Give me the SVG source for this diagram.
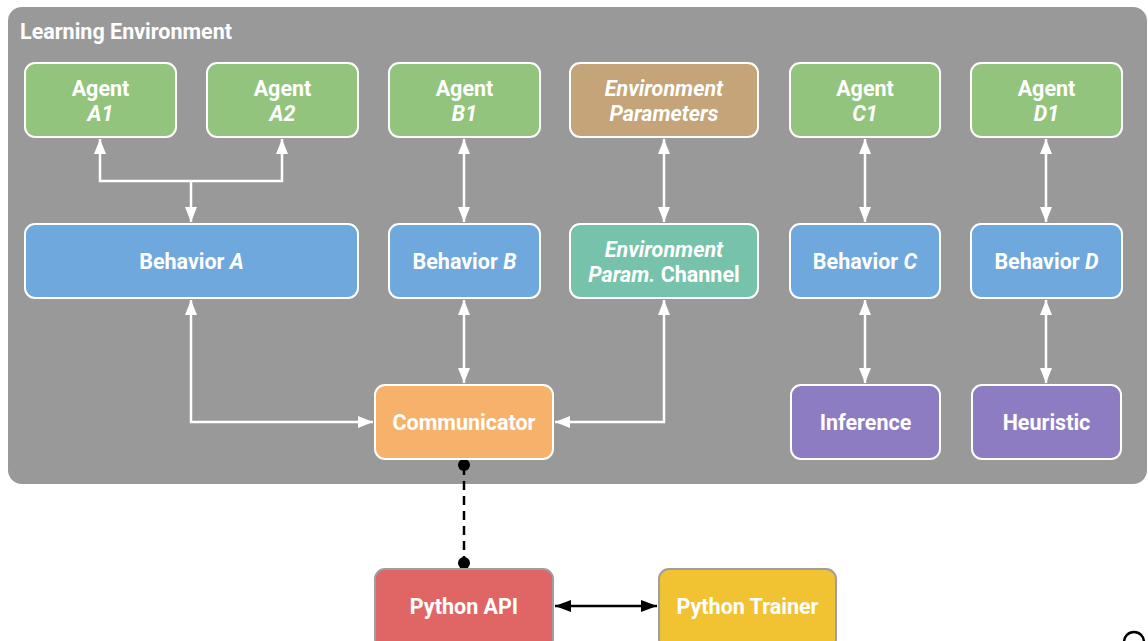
<svg xmlns="http://www.w3.org/2000/svg" width="1148" height="641" viewBox="0 0 1148 641">
<style>
.box{stroke:#ffffff;stroke-width:2}
.ext{stroke:#9e9e9e;stroke-width:2}
.lbl{font-family:Roboto,"Liberation Sans",sans-serif;font-weight:bold;font-size:21.5px;fill:#ffffff;text-anchor:middle}
.it{font-style:italic}
.wl{fill:none;stroke:#ffffff;stroke-width:2.5;marker-start:url(#wa);marker-end:url(#wa)}
</style>
<defs>
<marker id="wa" viewBox="0 0 15 13" refX="15" refY="6.5" markerWidth="15" markerHeight="13" markerUnits="userSpaceOnUse" orient="auto-start-reverse">
<path d="M0,0.5 L15,6.5 L0,12.5 z" fill="#ffffff"/>
</marker>
<marker id="ba" viewBox="0 0 16 13" refX="16" refY="6.5" markerWidth="16" markerHeight="13" markerUnits="userSpaceOnUse" orient="auto-start-reverse">
<path d="M0,0.5 L16,6.5 L0,12.5 z" fill="#000000"/>
</marker>
</defs>
<rect width="1148" height="641" fill="#ffffff"/>
<g id="learning-environment">
<rect x="8" y="7" width="1139" height="477" rx="14" fill="#999999"/>
<text x="20" y="39" font-family="Roboto,'Liberation Sans',sans-serif" font-weight="bold" font-size="21.5" fill="#ffffff">Learning Environment</text>
</g>
<g id="connectors">
<path class="wl" d="M100,139 V181 H282 V139"/>
<path d="M191,181 V222" fill="none" stroke="#ffffff" stroke-width="2.5" marker-end="url(#wa)"/>
<path class="wl" d="M191,300 V422 H373"/>
<path class="wl" d="M464,139 V222"/>
<path class="wl" d="M464,300 V383"/>
<path class="wl" d="M664,139 V222"/>
<path class="wl" d="M664,300 V422 H555"/>
<path class="wl" d="M865,139 V222"/>
<path class="wl" d="M865,300 V383"/>
<path class="wl" d="M1046,139 V222"/>
<path class="wl" d="M1046,300 V383"/>
<path d="M464,466 V563" fill="none" stroke="#000000" stroke-width="2.5" stroke-dasharray="9,6"/>
<circle cx="464" cy="465" r="6" fill="#000000"/>
<circle cx="464" cy="563" r="6" fill="#000000"/>
<path d="M555,606 H657" fill="none" stroke="#000000" stroke-width="2.5" marker-start="url(#ba)" marker-end="url(#ba)"/>
</g>
<g id="agent-a1"><rect class="box" x="25" y="63" width="151" height="74" rx="10" fill="#93c47d"/><text class="lbl" x="100.5" y="96">Agent</text><text class="lbl it" x="100.5" y="121">A1</text></g>
<g id="agent-a2"><rect class="box" x="207" y="63" width="151" height="74" rx="10" fill="#93c47d"/><text class="lbl" x="282.5" y="96">Agent</text><text class="lbl it" x="282.5" y="121">A2</text></g>
<g id="agent-b1"><rect class="box" x="389" y="63" width="151" height="74" rx="10" fill="#93c47d"/><text class="lbl" x="464.5" y="96">Agent</text><text class="lbl it" x="464.5" y="121">B1</text></g>
<g id="env-params"><rect class="box" x="570" y="63" width="188" height="74" rx="10" fill="#c4a478"/><text class="lbl it" x="664" y="96">Environment</text><text class="lbl it" x="664" y="121">Parameters</text></g>
<g id="agent-c1"><rect class="box" x="790" y="63" width="150" height="74" rx="10" fill="#93c47d"/><text class="lbl" x="865" y="96">Agent</text><text class="lbl it" x="865" y="121">C1</text></g>
<g id="agent-d1"><rect class="box" x="971" y="63" width="151" height="74" rx="10" fill="#93c47d"/><text class="lbl" x="1046.5" y="96">Agent</text><text class="lbl it" x="1046.5" y="121">D1</text></g>
<g id="behavior-a"><rect class="box" x="25" y="224" width="333" height="74" rx="10" fill="#6fa8dc"/><text class="lbl" x="191.5" y="269">Behavior <tspan class="it">A</tspan></text></g>
<g id="behavior-b"><rect class="box" x="389" y="224" width="151" height="74" rx="10" fill="#6fa8dc"/><text class="lbl" x="464.5" y="269">Behavior <tspan class="it">B</tspan></text></g>
<g id="env-channel"><rect class="box" x="570" y="224" width="188" height="74" rx="10" fill="#76c2ab"/><text class="lbl it" x="664" y="257">Environment</text><text class="lbl" x="664" y="282"><tspan class="it">Param.</tspan> Channel</text></g>
<g id="behavior-c"><rect class="box" x="790" y="224" width="150" height="74" rx="10" fill="#6fa8dc"/><text class="lbl" x="865" y="269">Behavior <tspan class="it">C</tspan></text></g>
<g id="behavior-d"><rect class="box" x="971" y="224" width="151" height="74" rx="10" fill="#6fa8dc"/><text class="lbl" x="1046.5" y="269">Behavior <tspan class="it">D</tspan></text></g>
<g id="communicator"><rect class="box" x="375" y="385" width="178" height="74" rx="10" fill="#f6b26b"/><text class="lbl" x="464" y="430">Communicator</text></g>
<g id="inference"><rect class="box" x="791" y="385" width="149" height="74" rx="10" fill="#8e7cc3"/><text class="lbl" x="865.5" y="430">Inference</text></g>
<g id="heuristic"><rect class="box" x="972" y="385" width="149" height="74" rx="10" fill="#8e7cc3"/><text class="lbl" x="1046.5" y="430">Heuristic</text></g>
<g id="python-api"><rect class="ext" x="375" y="569" width="178" height="80" rx="10" fill="#e06666"/><text class="lbl" x="464" y="614">Python API</text></g>
<g id="python-trainer"><rect class="ext" x="659" y="569" width="177" height="80" rx="10" fill="#f1c232"/><text class="lbl" x="747.5" y="614">Python Trainer</text></g>
<circle cx="1134" cy="642" r="10" fill="none" stroke="#000000" stroke-width="2.5"/>
</svg>
